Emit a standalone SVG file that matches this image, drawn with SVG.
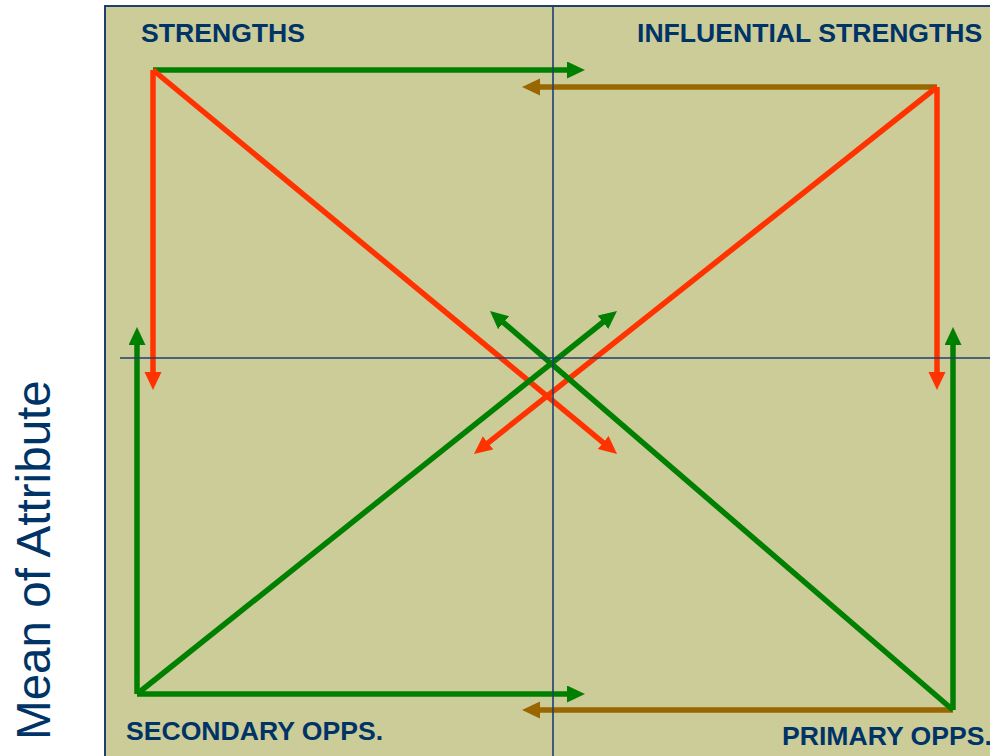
<svg xmlns="http://www.w3.org/2000/svg" width="990" height="756" viewBox="0 0 990 756">
  <defs>
    <style>
      .quad { font-family: "Liberation Sans", Arial, sans-serif; font-weight: bold; font-size: 26.6px; fill: #003366; }
      .axis-title { font-family: "Liberation Sans", Arial, sans-serif; font-size: 47.6px; fill: #003366; }
      .axis { stroke: #1f3f6f; stroke-width: 1.6; fill: none; }
      .link { stroke-width: 5.5; fill: none; }
      .green { stroke: #008000; }
      .red { stroke: #ff3300; }
      .brown { stroke: #996600; }
    </style>
    <marker id="head-green" markerUnits="userSpaceOnUse" markerWidth="18" markerHeight="18" refX="2" refY="8.5" orient="auto">
      <path d="M0,0 L18,8.5 L0,17 z" fill="#008000"/>
    </marker>
    <marker id="head-red" markerUnits="userSpaceOnUse" markerWidth="18" markerHeight="18" refX="2" refY="8.5" orient="auto">
      <path d="M0,0 L18,8.5 L0,17 z" fill="#ff3300"/>
    </marker>
    <marker id="head-brown" markerUnits="userSpaceOnUse" markerWidth="18" markerHeight="18" refX="2" refY="8.5" orient="auto">
      <path d="M0,0 L18,8.5 L0,17 z" fill="#996600"/>
    </marker>
  </defs>

  <rect width="990" height="756" fill="#ffffff"/>

  <!-- plot panel -->
  <rect x="105" y="6" width="900" height="760" fill="#cccc99" stroke="#1f3f6f" stroke-width="2"/>

  <!-- vertical axis title -->
  <text class="axis-title" transform="translate(50,740) rotate(-90)">Mean of Attribute</text>

  <!-- connectors -->
  <g id="connectors">
    <line class="link green" x1="153" y1="70" x2="569" y2="70" marker-end="url(#head-green)"/>
    <line class="link brown" x1="937" y1="87" x2="538" y2="87" marker-end="url(#head-brown)"/>
    <line class="link red" x1="153" y1="70" x2="153" y2="374" marker-end="url(#head-red)"/>
    <line class="link red" x1="153" y1="70" x2="604.7" y2="443.8" marker-end="url(#head-red)"/>
    <line class="link red" x1="937" y1="87" x2="937" y2="374" marker-end="url(#head-red)"/>
    <line class="link red" x1="937" y1="87" x2="486.5" y2="444.1" marker-end="url(#head-red)"/>
    <line class="link green" x1="137" y1="694" x2="137" y2="343" marker-end="url(#head-green)"/>
    <line class="link green" x1="137" y1="694" x2="569" y2="694" marker-end="url(#head-green)"/>
    <line class="link green" x1="137" y1="694" x2="604.5" y2="321" marker-end="url(#head-green)"/>
    <line class="link green" x1="953" y1="710" x2="953" y2="343" marker-end="url(#head-green)"/>
    <line class="link brown" x1="953" y1="710" x2="538" y2="710" marker-end="url(#head-brown)"/>
    <line class="link green" x1="953" y1="710" x2="502.1" y2="321.4" marker-end="url(#head-green)"/>
  </g>

  <!-- quadrant axes -->
  <g id="axes">
    <line class="axis" x1="553" y1="6" x2="553" y2="756"/>
    <line class="axis" x1="120" y1="358" x2="990" y2="358"/>
  </g>

  <!-- quadrant labels -->
  <g id="strengths"><text class="quad" x="141" y="42">STRENGTHS</text></g>
  <g id="influential-strengths"><text class="quad" x="637" y="42">INFLUENTIAL STRENGTHS</text></g>
  <g id="secondary-opps"><text class="quad" x="126" y="740">SECONDARY OPPS.</text></g>
  <g id="primary-opps"><text class="quad" x="782" y="745">PRIMARY OPPS.</text></g>
</svg>
